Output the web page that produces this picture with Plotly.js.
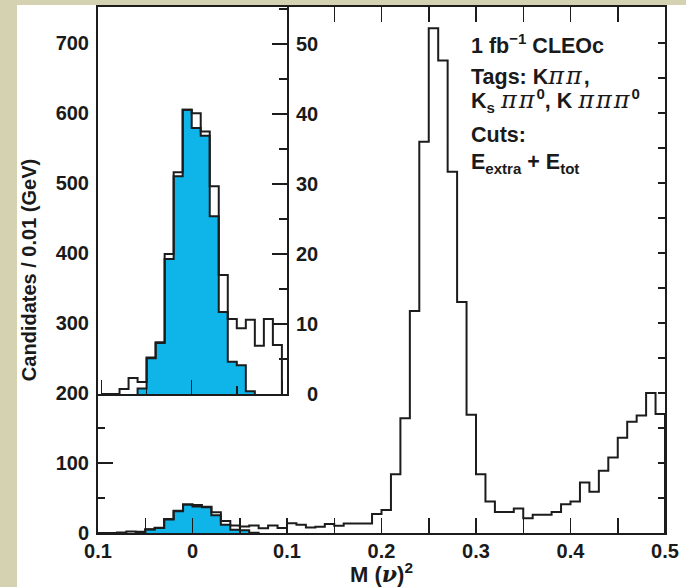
<!DOCTYPE html>
<html><head><meta charset="utf-8">
<script src="https://cdn.plot.ly/plotly-3.0.1.min.js"></script>
<style>html,body{margin:0;padding:0;background:#fff}#chart{width:686px;height:587px}</style>
</head><body><div id="chart"></div>
<script>
// ---- data (bin lower edges, width 0.01 in M(nu)^2) ----
const binStarts = [
 -0.10,-0.09,-0.08,-0.07,-0.06,-0.05,-0.04,-0.03,-0.02,-0.01,
  0.00, 0.01, 0.02, 0.03, 0.04, 0.05, 0.06, 0.07, 0.08, 0.09,
  0.10, 0.11, 0.12, 0.13, 0.14, 0.15, 0.16, 0.17, 0.18, 0.19,
  0.20, 0.21, 0.22, 0.23, 0.24, 0.25, 0.26, 0.27, 0.28, 0.29,
  0.30, 0.31, 0.32, 0.33, 0.34, 0.35, 0.36, 0.37, 0.38, 0.39,
  0.40, 0.41, 0.42, 0.43, 0.44, 0.45, 0.46, 0.47, 0.48, 0.49];
const allCounts = [
  0, 0, 0.7, 2.3, 1.7, 5.2, 7.4, 20.0, 31.7, 40.6,
  40.1, 37.5, 29.7, 17.0, 10.7, 9.4, 10.6, 6.9, 10.7, 7.0,
  13.8, 11.9, 8, 9, 12.8, 10.4, 13.5, 13.5, 13.5, 27,
  33, 84, 164, 317, 559, 721, 675, 516, 330, 169,
  84, 45, 30, 30, 35, 21, 26, 26, 30, 41,
  45, 72, 59, 89, 108, 136, 159, 168, 200, 170];
const signalStarts = [-0.06,-0.05,-0.04,-0.03,-0.02,-0.01,0.00,0.01,0.02,0.03,0.04,0.05,0.06];
const signalCounts = [0.8, 5.1, 7.3, 19.3, 31.1, 40.6, 38.0, 36.9, 25.4, 11.7, 4.6, 4.1, 0.4];
const insetBinCount = 20;   // inset shows the first 20 bins (-0.10 .. 0.10)
const binWidth = 0.01;

const xTickVals = [-0.1, 0, 0.1, 0.2, 0.3, 0.4, 0.5];
const xTickText = ['0.1', '0', '0.1', '0.2', '0.3', '0.4', '0.5'];
const yTickVals = [0, 100, 200, 300, 400, 500, 600, 700];
const yTickText = ['0', '100', '200', '300', '400', '500', '600', '700'];
const insetYTickVals = [0, 10, 20, 30, 40, 50];
const insetYTickText = ['\u20070', '10', '20', '30', '40', '50'];

function stepXY(starts, vals, w) {
  const x = [starts[0]], y = [0];
  for (let i = 0; i < starts.length; i++) { x.push(starts[i]); y.push(vals[i]); }
  const end = starts[starts.length - 1] + w;
  x.push(end); y.push(vals[vals.length - 1]);
  x.push(end); y.push(0);
  return {x, y};
}

const BLUE = '#0fb4e8', INK = '#1c1c1c', BEIGE = '#d4d2b0';
const mainAll = stepXY(binStarts, allCounts, binWidth);
const mainSig = stepXY(signalStarts, signalCounts, binWidth);
const insAll = stepXY(binStarts.slice(0, insetBinCount), allCounts.slice(0, insetBinCount), binWidth);

const traces = [
  {x: mainSig.x, y: mainSig.y, xaxis: 'x', yaxis: 'y', mode: 'lines', line: {shape: 'hv', color: INK, width: 2},
   fill: 'tozeroy', fillcolor: BLUE, hoverinfo: 'skip'},
  {x: mainAll.x, y: mainAll.y, xaxis: 'x', yaxis: 'y', mode: 'lines', line: {shape: 'hv', color: INK, width: 2}, hoverinfo: 'skip'},
  {x: [], y: [], xaxis: 'x', yaxis: 'y3', mode: 'lines', hoverinfo: 'skip'},
  {x: mainSig.x, y: mainSig.y, xaxis: 'x2', yaxis: 'y2', mode: 'lines', line: {shape: 'hv', color: INK, width: 2},
   fill: 'tozeroy', fillcolor: BLUE, hoverinfo: 'skip'},
  {x: insAll.x, y: insAll.y, xaxis: 'x2', yaxis: 'y2', mode: 'lines', line: {shape: 'hv', color: INK, width: 2}, hoverinfo: 'skip'}
];

const F = 'Liberation Sans, Arial, sans-serif';
const tf = (s) => ({family: F, size: s, color: '#1a1a1a', weight: 'bold'});
const W = 567, H = 526, L = 98, T = 7;
const px = (x) => (x - L) / W;
const py = (y) => (T + H - y) / H;
const PI = (s) => '<span style="font-family:\'DejaVu Serif\',serif;font-style:italic;font-weight:normal;font-size:24px;letter-spacing:2px">' + s + '</span>';
const NU = (s) => '<span style="font-family:\'DejaVu Serif\',serif;font-style:italic">' + s + '</span>';

const layout = {
  width: 686, height: 587,
  margin: {l: 98, r: 21, t: 7, b: 54},
  paper_bgcolor: '#ffffff', plot_bgcolor: '#ffffff',
  showlegend: false,
  xaxis: {
    domain: [0, 1], anchor: 'y', range: [-0.1, 0.5], showgrid: false, zeroline: false,
    showline: true, linewidth: 2, linecolor: INK, mirror: 'allticks',
    ticks: 'inside', ticklen: 15, tickwidth: 1.5, tickcolor: INK,
    tickmode: 'array', tickvals: xTickVals, ticktext: xTickText,
    minor: {tickmode: 'linear', tick0: 0, dtick: 0.05, ticks: 'inside', ticklen: 7, tickwidth: 1.5, tickcolor: INK},
    tickfont: tf(20), ticklabelstandoff: -1,
    title: {text: 'M (' + NU('ν') + ')<sup>2</sup>', font: tf(22), standoff: 1}
  },
  yaxis: {
    domain: [0, 1], anchor: 'x', range: [0, 751.4], showgrid: false, zeroline: false,
    showline: true, linewidth: 2, linecolor: INK, mirror: true,
    ticks: 'inside', ticklen: 15, tickwidth: 1.5, tickcolor: INK,
    tickmode: 'array', tickvals: yTickVals, ticktext: yTickText,
    minor: {tickmode: 'linear', tick0: 0, dtick: 50, ticks: 'inside', ticklen: 7, tickwidth: 1.5, tickcolor: INK},
    tickfont: tf(20), ticklabelstandoff: 3,
    title: {text: 'Candidates / 0.01 (GeV)', font: tf(20), standoff: 14}
  },
  yaxis3: {
    overlaying: 'y', side: 'right', anchor: 'x', range: [0, 751.4], showgrid: false, zeroline: false,
    showline: false, ticks: 'inside', ticklen: 7, tickwidth: 1.5, tickcolor: INK,
    tickmode: 'linear', tick0: 0, dtick: 50, showticklabels: false
  },
  xaxis2: {
    domain: [0, 0.33333], anchor: 'y2', range: [-0.10388, 0.10565], showgrid: false, zeroline: false,
    showline: true, linewidth: 2, linecolor: INK,
    ticks: 'inside', ticklen: 14, tickwidth: 1.5, tickcolor: INK,
    tickmode: 'linear', tick0: 0, dtick: 0.1, showticklabels: false,
    minor: {tickmode: 'linear', tick0: 0, dtick: 0.05, ticks: 'inside', ticklen: 8, tickwidth: 1.5, tickcolor: INK}
  },
  yaxis2: {
    domain: [0.26426, 1], anchor: 'x2', side: 'right', range: [0, 55.3], showgrid: false, zeroline: false,
    showline: true, linewidth: 2, linecolor: INK,
    ticks: 'inside', ticklen: 15, tickwidth: 1.5, tickcolor: INK,
    tickmode: 'array', tickvals: insetYTickVals, ticktext: insetYTickText,
    minor: {tickmode: 'linear', tick0: 0, dtick: 5, ticks: 'inside', ticklen: 8, tickwidth: 1.5, tickcolor: INK},
    tickfont: tf(20), ticklabelstandoff: 3
  },
  shapes: [
    {type: 'rect', xref: 'paper', yref: 'paper', layer: 'below', x0: px(0), x1: px(17), y0: py(588), y1: py(-1),
     fillcolor: BEIGE, line: {width: 0}},
    {type: 'rect', xref: 'paper', yref: 'paper', layer: 'below', x0: px(0), x1: px(687), y0: py(5), y1: py(-1),
     fillcolor: BEIGE, line: {width: 0}}
  ],
  annotations: [
    {text: '1 fb<sup>\u22121</sup> CLEOc', y: py(44)},
    {text: 'Tags: K' + PI('ππ') + ',', y: py(75.5)},
    {text: 'K<sub>s</sub> ' + PI('ππ') + '<sup>0</sup>, K ' + PI('πππ') + '<sup>0</sup>', y: py(101)},
    {text: 'Cuts:', y: py(135)},
    {text: 'E<sub>extra</sub> + E<sub>tot</sub>', y: py(163)}
  ].map(a => Object.assign({xref: 'paper', yref: 'paper', x: px(469), xanchor: 'left', yanchor: 'middle',
    showarrow: false, align: 'left', font: tf(21.5)}, a))
};

Plotly.newPlot('chart', traces, layout, {staticPlot: true, displayModeBar: false});
</script>
</body></html>
